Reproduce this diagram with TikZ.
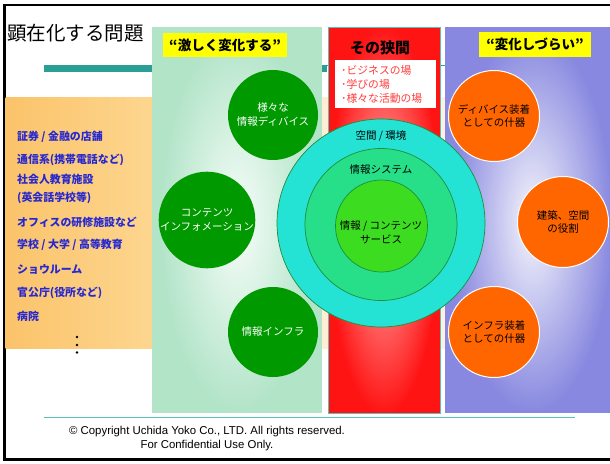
\documentclass[tikz,border=0pt]{standalone}
\usepackage{fontspec}
\setmainfont{Liberation Sans}
\newfontfamily\jp{Noto Sans CJK JP}
\definecolor{tealbar}{HTML}{2A9F96}
\definecolor{tealline}{HTML}{5CC0B8}
\definecolor{orA}{HTML}{FBC36A}
\definecolor{orB}{HTML}{FDD68F}
\definecolor{crA}{HTML}{FEE9C8}
\definecolor{crB}{HTML}{FDF6EC}
\definecolor{gbase}{HTML}{B2E4C8}
\definecolor{gcenter}{HTML}{F7FDF9}
\definecolor{rbase}{HTML}{FF1414}
\definecolor{rcenter}{HTML}{FFB8B8}
\definecolor{bbase}{HTML}{8888E0}
\definecolor{bcenter}{HTML}{F5F5FC}
\definecolor{dgreen}{HTML}{009900}
\definecolor{cyanring}{HTML}{24E2D4}
\definecolor{midring}{HTML}{26DF88}
\definecolor{innring}{HTML}{3CDD20}
\definecolor{ringline}{HTML}{1E8E3E}
\definecolor{orcirc}{HTML}{FF6600}
\definecolor{listblue}{HTML}{2828D0}
\definecolor{redtxt}{HTML}{FF3C3C}
\definecolor{ylw}{HTML}{FFFF00}
\tikzset{
  gcirc/.style={circle, fill=dgreen, minimum size=90pt, inner sep=0pt, align=center, text=white, font=\jp\fontsize{10.5}{14}\selectfont},
  ocirc/.style={circle, fill=orcirc, draw=white, line width=1pt, minimum size=91pt, inner sep=0pt, align=center, text=black, font=\jp\fontsize{10.5}{13}\selectfont},
  ring/.style={circle, draw=ringline, line width=0.7pt, inner sep=0pt},
  ringtxt/.style={font=\jp\fontsize{10.5}{14}\selectfont, text=black, inner sep=0pt, align=center},
  listitem/.style={anchor=west, inner sep=0pt, text=listblue, font=\jp\bfseries\fontsize{10.9}{12}\selectfont},
  ylab/.style={fill=ylw, inner sep=0pt, font=\jp\bfseries\fontsize{13.5}{15}\selectfont, text=black},
}
\begin{document}
\begin{tikzpicture}[x=1pt,y=-1pt]
\useasboundingbox (0,0) rectangle (610,463);
\fill[white] (0,0) rectangle (610,463);
% frame
\draw[line width=2.5pt] (4.5,5) rectangle (616,459.5);
% title
\node[anchor=west, inner sep=0pt, font=\jp\fontsize{19.5}{22}\selectfont] (title) at (7,33) {顕在化する問題};
% teal bar
\fill[tealbar] (44,65) rectangle (327,72);
\draw[tealbar, line width=1pt] (327,65.5) -- (445,65.5);
% orange band
\shade[left color=orA, right color=orB] (5.7,97) rectangle (152,348);
\shade[left color=crA, right color=crB] (152,97) rectangle (610,348);
% green panel
\begin{scope}
\clip (152,27) rectangle (322,413);
\fill[gbase] (152,27) rectangle (322,413);
\shade[inner color=gcenter, outer color=gbase] (238,222) ellipse (78 and 190);
\end{scope}
% red panel
\begin{scope}
\clip (328,27) rectangle (440,413);
\fill[rbase] (328,27) rectangle (440,413);
\shade[inner color=rcenter, outer color=rbase] (384,220) ellipse (56 and 195);
\end{scope}
\draw[tealline, line width=0.8pt] (328,27) rectangle (440,413);
% blue panel
\begin{scope}
\clip (445,27) rectangle (610,413);
\fill[bbase] (445,27) rectangle (610,413);
\shade[inner color=bcenter, outer color=bbase] (532,222) ellipse (80 and 190);
\end{scope}
% headings
\node[ylab, minimum width=124pt, minimum height=24pt] (h1) at (225,45) {“激しく変化する”};
\node[inner sep=0pt, font=\jp\bfseries\fontsize{15}{17}\selectfont] (h2) at (380,48) {その狭間};
\node[ylab, minimum width=112pt, minimum height=25pt] (h3) at (535,44) {“変化しづらい”};
\node[anchor=north west, fill=white, minimum width=101pt, minimum height=48pt, inner xsep=6pt, inner ysep=3pt, text width=89pt, align=left, text=redtxt, font=\jp\fontsize{10.8}{14}\selectfont] (places) at (335,60) {･ビジネスの場\\･学びの場\\･様々な活動の場};
% left list
\node[listitem] (i1) at (17,137) {証券 / 金融の店舗};
\node[listitem] (i2) at (17,160) {通信系(携帯電話など)};
\node[listitem] (i3) at (17,179) {社会人教育施設};
\node[listitem] (i4) at (17,198) {(英会話学校等)};
\node[listitem] (i5) at (17,222) {オフィスの研修施設など};
\node[listitem] (i6) at (17,245) {学校 / 大学 / 高等教育};
\node[listitem] (i7) at (17,269) {ショウルーム};
\node[listitem] (i8) at (17,293) {官公庁(役所など)};
\node[listitem] (i9) at (17,316) {病院};
\fill (77,337) circle (1.3) (77,345) circle (1.3) (77,352.5) circle (1.3);
% concentric circles
\node[ring, fill=cyanring, minimum size=208pt] (outer) at (381,223) {};
\node[ring, fill=midring, minimum size=152pt] (middle) at (381,224.5) {};
\node[ring, fill=innring, minimum size=92pt] (inner) at (381.5,226) {};
\node[ringtxt] (t1) at (381,136) {空間 / 環境};
\node[ringtxt] (t2) at (381,169.5) {情報システム};
\node[ringtxt] (t3) at (381,232) {情報 / コンテンツ\\サービス};
% green circles
\node[gcirc] (g1) at (273,115) {様々な\\情報ディバイス};
\node[gcirc] (g2) at (207,220) {コンテンツ\\インフォメーション};
\node[gcirc] (g3) at (273,332) {情報インフラ};
% orange circles
\node[ocirc] (o1) at (494,116) {ディバイス装着\\としての什器};
\node[ocirc] (o2) at (563,222) {建築、空間\\の役割};
\node[ocirc] (o3) at (494,332) {インフラ装着\\としての什器};
% footer
\draw[tealline, line width=1pt] (44,417) -- (575,417);
\node[inner sep=0pt, font=\fontsize{11.4}{13}\selectfont] (c1) at (207,432) {© Copyright Uchida Yoko Co., LTD. All rights reserved.};
\node[inner sep=0pt, font=\fontsize{11.4}{13}\selectfont] (c2) at (207,446) {For Confidential Use Only.};
\end{tikzpicture}
\end{document}
